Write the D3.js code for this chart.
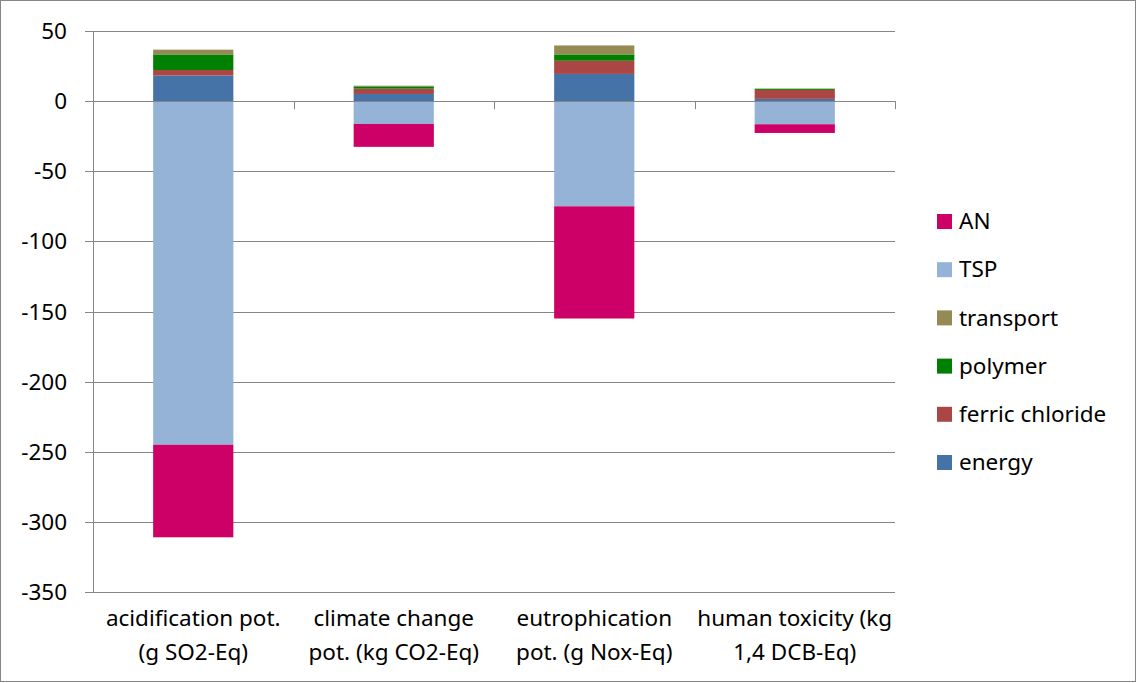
<!DOCTYPE html>
<html>
<head>
<meta charset="utf-8">
<script src="https://cdn.jsdelivr.net/npm/d3@7"></script>
<style>
  body { margin: 0; background: #fff; }
  text { font-family: "Noto Sans", sans-serif; fill: #000; }
</style>
</head>
<body>
<div id="content"></div>
<script>
// categories and series
const categories = [
  ["acidification pot.", "(g SO2-Eq)"],
  ["climate change", "pot. (kg CO2-Eq)"],
  ["eutrophication", "pot. (g Nox-Eq)"],
  ["human toxicity (kg", "1,4 DCB-Eq)"]
];
const seriesNames = ["energy", "ferric chloride", "polymer", "transport", "TSP", "AN"];
const energy = [18.2, 5.1, 19.4, 1.6];
const ferricChloride = [4.0, 3.8, 9.4, 6.4];
const polymer = [11.1, 1.6, 4.5, 0.7];
const transport = [3.4, 0.5, 6.4, 0.3];
const TSP = [-245, -16.3, -75, -16.5];
const AN = [-66, -16.3, -80, -6.2];
const yTicks = [50, 0, -50, -100, -150, -200, -250, -300, -350];
const colors = ["#4572A7", "#AA4643", "#008000", "#948A54", "#95B3D7", "#CC0066"];

const width = 1137, height = 683;
const margin = {top: 31, right: 242, bottom: 91, left: 93};
const fontSize = "22.5px";

const svg = d3.select("#content")
  .append("svg")
  .attr("width", width)
  .attr("height", height);

// chart border
svg.append("rect")
  .attr("x", 0.5).attr("y", 0.5)
  .attr("width", width - 2).attr("height", height - 2)
  .attr("fill", "#fff").attr("stroke", "#868686");

const values = [energy, ferricChloride, polymer, transport, TSP, AN];
const table = categories.map((c, i) => {
  const row = {cat: i};
  seriesNames.forEach((s, j) => row[s] = values[j][i]);
  return row;
});

const x = d3.scaleBand()
  .domain(d3.range(categories.length))
  .range([margin.left, width - margin.right])
  .paddingInner(0.6).paddingOuter(0.3);
const xEdge = d3.scaleLinear()
  .domain([0, categories.length])
  .range([margin.left, width - margin.right]);

const y = d3.scaleLinear()
  .domain([-350, 50])
  .range([height - margin.bottom, margin.top]);

// gridlines
svg.append("g")
  .selectAll("line")
  .data(yTicks)
  .join("line")
  .attr("x1", margin.left - 8)
  .attr("x2", width - margin.right)
  .attr("y1", d => Math.round(y(d)) + 0.5)
  .attr("y2", d => Math.round(y(d)) + 0.5)
  .attr("stroke", "#868686")
  .attr("stroke-width", 1);

// y labels
svg.append("g")
  .selectAll("text")
  .data(yTicks)
  .join("text")
  .attr("x", margin.left - 26)
  .attr("y", d => y(d))
  .attr("dy", "0.36em")
  .attr("text-anchor", "end")
  .style("font-size", fontSize)
  .text(d => d);

// bars
const stack = d3.stack()
  .keys(seriesNames)
  .offset(d3.stackOffsetDiverging);
const layers = stack(table);

svg.append("g")
  .selectAll("g")
  .data(layers)
  .join("g")
  .attr("fill", (d, i) => colors[i])
  .selectAll("rect")
  .data(d => d)
  .join("rect")
  .attr("x", (d, i) => x(i))
  .attr("width", x.bandwidth())
  .attr("y", d => y(d[1]))
  .attr("height", d => y(d[0]) - y(d[1]));

// y axis line
svg.append("line")
  .attr("x1", margin.left + 0.5).attr("x2", margin.left + 0.5)
  .attr("y1", y(50)).attr("y2", y(-350))
  .attr("stroke", "#868686");

// zero axis with category tick marks
svg.append("line")
  .attr("x1", margin.left).attr("x2", width - margin.right)
  .attr("y1", Math.round(y(0)) + 0.5).attr("y2", Math.round(y(0)) + 0.5)
  .attr("stroke", "#868686");
svg.append("g")
  .selectAll("line")
  .data(d3.range(1, categories.length + 1))
  .join("line")
  .attr("x1", d => Math.round(xEdge(d)) + 0.5)
  .attr("x2", d => Math.round(xEdge(d)) + 0.5)
  .attr("y1", y(0))
  .attr("y2", y(0) + 8)
  .attr("stroke", "#868686");

// category labels
const catLabels = svg.append("g")
  .selectAll("text")
  .data(categories)
  .join("text")
  .attr("x", (d, i) => x(i) + x.bandwidth() / 2)
  .attr("y", 626)
  .attr("text-anchor", "middle")
  .style("font-size", fontSize);
catLabels.selectAll("tspan")
  .data(d => d)
  .join("tspan")
  .attr("x", function() { return this.parentNode.getAttribute("x"); })
  .attr("dy", (d, i) => i === 0 ? 0 : 34)
  .text(d => d);

// legend
const legendOrder = seriesNames.slice().reverse();
const legend = svg.append("g")
  .selectAll("g")
  .data(legendOrder)
  .join("g")
  .attr("transform", (d, i) => `translate(937,${221 + i * 48.2})`);
legend.append("rect")
  .attr("x", 0).attr("y", -7)
  .attr("width", 15).attr("height", 15)
  .attr("fill", d => colors[seriesNames.indexOf(d)]);
legend.append("text")
  .attr("x", 22)
  .attr("y", 0)
  .attr("dy", "0.36em")
  .style("font-size", fontSize)
  .text(d => d);
</script>
</body>
</html>
